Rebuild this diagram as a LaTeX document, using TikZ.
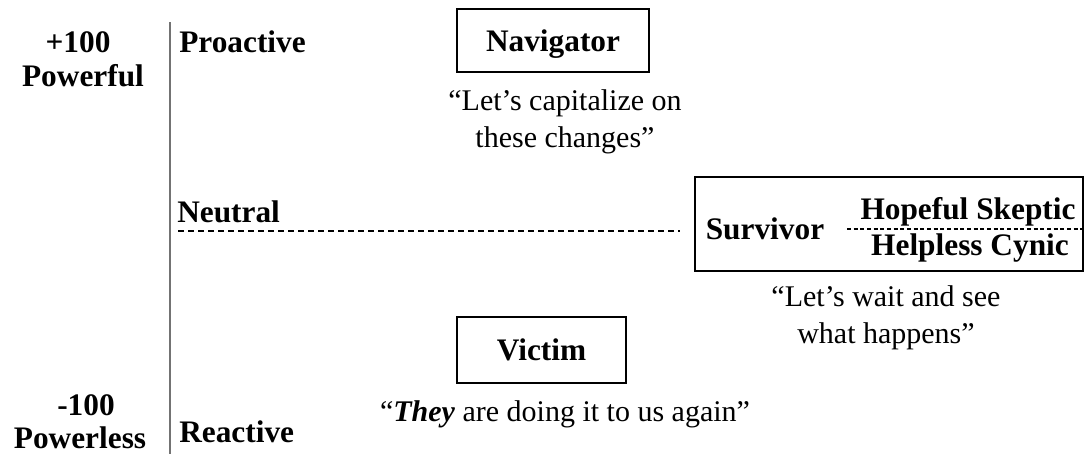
\documentclass[tikz,border=0pt]{standalone}
\usepackage{fontspec}
\setmainfont{Liberation Serif}
\usetikzlibrary{positioning}

\tikzset{
  lbl/.style={font=\fontsize{23.5}{26}\selectfont\bfseries, inner sep=0pt, align=center},
  quote/.style={font=\fontsize{22.5}{27.75}\selectfont, inner sep=0pt, align=center},
  box/.style={draw, line width=1.2pt, inner sep=0pt, text depth=0pt},
  axis/.style={draw=black!55, line width=1.3pt},
  neutral/.style={dash pattern=on 4.5pt off 3pt, line width=1pt}
}

\begin{document}
\begin{tikzpicture}[x=0.75pt, y=-0.75pt]
  \useasboundingbox (0,0) rectangle (1086,454);

  % axis
  \coordinate (top) at (170,22);
  \coordinate (bot) at (170,454);
  \draw[axis] (top) -- (bot);

  % scale labels
  \node[lbl] (plus) at (78,42) {+100};
  \node[lbl] (powerful) at (83,76) {Powerful};
  \node[lbl] (minus) at (86,405) {-100};
  \node[lbl] (powerless) at (80,438) {Powerless};
  \node[lbl, anchor=west] (proactive) at (179,42) {Proactive};
  \node[lbl, anchor=west] (reactive) at (179,432) {Reactive};

  % neutral line
  \node[lbl, anchor=west] (neutral) at (177,212) {Neutral};
  \coordinate (nl) at (178,231);
  \coordinate (nr) at (680,231);
  \draw[neutral] (nl) -- (nr);

  % navigator
  \node[box, lbl, minimum width=144pt, minimum height=47pt] (nav) at (553,40.5) {Navigator};
  \node[quote] (navq) at (565,122) {``Let's capitalize on\\these changes''};

  % survivor
  \node[box, minimum width=291pt, minimum height=70.5pt] (surv) at (889,224) {};
  \node[lbl] (survivor) at (765,229) {Survivor};
  \node[lbl] (hope) at (968,212) {Hopeful Skeptic};
  \node[lbl] (help) at (970,248) {Helpless Cynic};
  \coordinate (split) at (847,229);
  \draw[dash pattern=on 3pt off 2pt, line width=0.8pt] (split) -- (split -| surv.east);
  \node[quote] (survq) at (886,318) {``Let's wait and see\\what happens''};

  % victim
  \node[box, lbl, minimum width=127pt, minimum height=49.5pt] (victim) at (541.5,350) {Victim};
  \node[quote] (victq) at (565,414) {``\textbf{\textit{They}} are doing it to us again''};
\end{tikzpicture}
\end{document}
